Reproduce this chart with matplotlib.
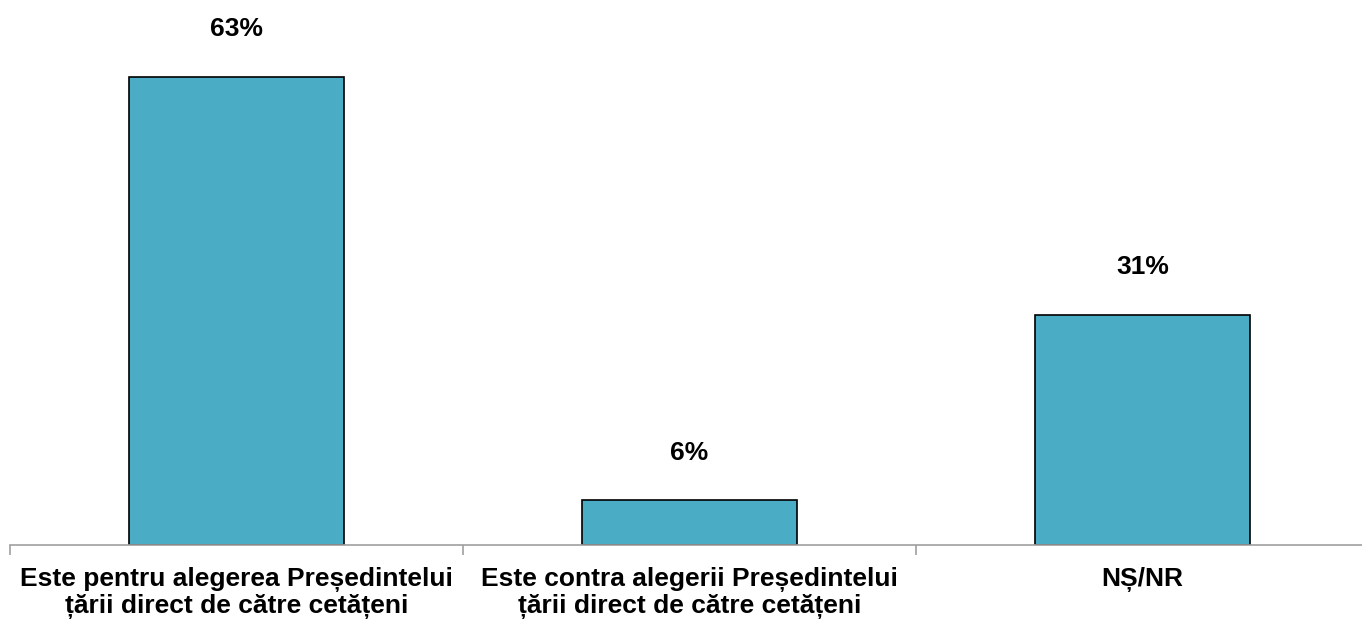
import matplotlib.pyplot as plt

categories = ['Este pentru alegerea Președintelui\nțării direct de către cetățeni',
              'Este contra alegerii Președintelui\nțării direct de către cetățeni',
              'NȘ/NR']
values = [63, 6, 31]
labels = ['63%', '6%', '31%']

plt.rcParams['font.family'] = ['Liberation Sans', 'DejaVu Sans']

fig = plt.figure(figsize=(13.62, 6.22), dpi=100)
ax = fig.add_axes([10 / 1362, 1 - 545 / 622, 1359 / 1362, 545 / 622])

x = range(len(categories))
ax.bar(x, values, width=0.475, color='#4BACC6', edgecolor='black', linewidth=1.2, zorder=2)

for i, v in enumerate(values):
    ax.text(i, v + 6.4, labels[i], ha='center', va='center', fontsize=19, fontweight='bold')

ax.set_xlim(-0.5, 2.5)
ax.set_ylim(0, 73.35)

for s in ['top', 'right', 'left']:
    ax.spines[s].set_visible(False)
ax.spines['bottom'].set_color('#A0A0A0')
ax.spines['bottom'].set_linewidth(1.2)
ax.set_yticks([])

ax.set_xticks([-0.5, 0.5, 1.5, 2.5])
ax.set_xticklabels([])
ax.tick_params(axis='x', which='major', length=7, color='#A0A0A0', width=1.2)
ax.set_xticks(list(x), minor=True)
ax.set_xticklabels(categories, minor=True, fontsize=19, fontweight='bold', linespacing=1.08)
ax.tick_params(axis='x', which='minor', length=0, pad=16)

fig.savefig('out.png', dpi=100)
